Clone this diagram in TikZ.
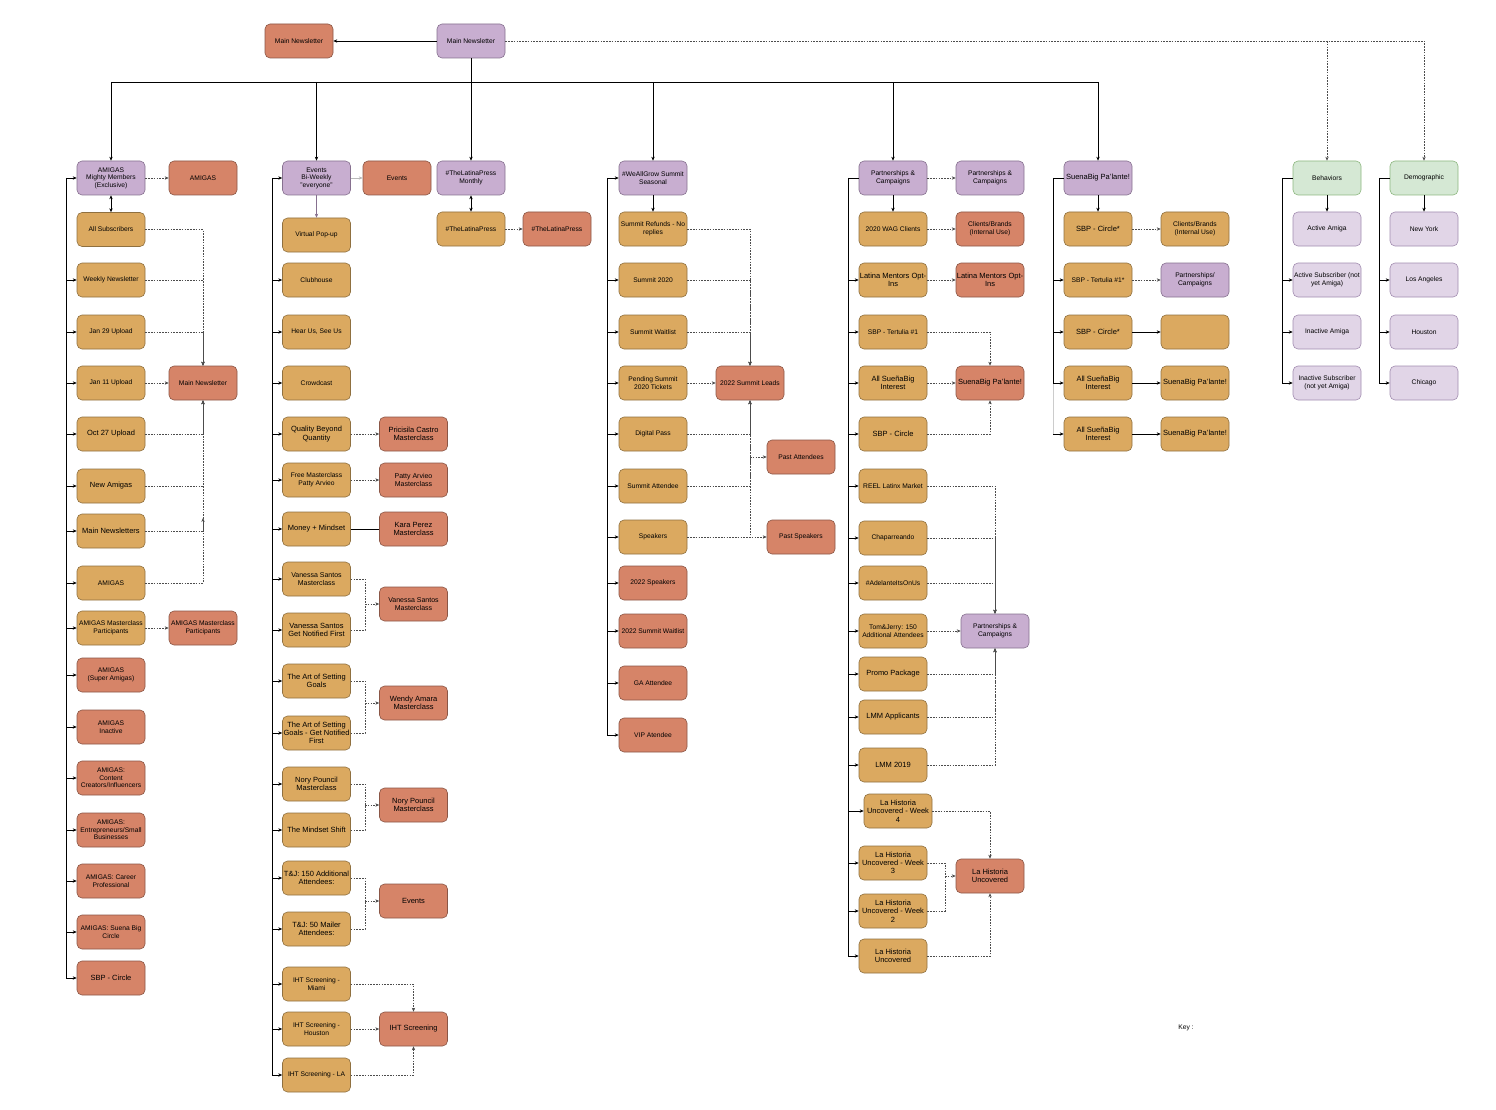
\documentclass[tikz,border=0pt]{standalone}
\usepackage{fontspec}
\setmainfont{Liberation Sans}
\usetikzlibrary{arrows.meta,calc}
\definecolor{cyel}{HTML}{DBA960}
\definecolor{cyelb}{HTML}{8F7040}
\definecolor{cora}{HTML}{D68468}
\definecolor{corab}{HTML}{8A5646}
\definecolor{cpur}{HTML}{C8AED0}
\definecolor{cpurb}{HTML}{86708F}
\definecolor{clpu}{HTML}{E1D5E7}
\definecolor{clpub}{HTML}{A28DB0}
\definecolor{cgrn}{HTML}{D5E8D4}
\definecolor{cgrnb}{HTML}{8DB77F}
\newcommand\smtxt{\fontsize{6.7}{7.5}\selectfont}
\newcommand\mdtxt{\fontsize{7.0}{7.8}\selectfont}
\newcommand\lgtxt{\fontsize{7.5}{8.3}\selectfont}
\begin{document}
\begin{tikzpicture}[x=1pt,y=-1pt,
  >={Stealth[length=4pt,width=3.4pt]},
  box/.style={draw, rounded corners=5pt, minimum width=68pt, minimum height=34pt,
    inner sep=0.5pt, align=center, font=\smtxt, line width=0.6pt},
  yel/.style={box, fill=cyel, draw=cyelb},
  ora/.style={box, fill=cora, draw=corab},
  pur/.style={box, fill=cpur, draw=cpurb},
  lpu/.style={box, fill=clpu, draw=clpub},
  grn/.style={box, fill=cgrn, draw=cgrnb},
  lg/.style={font=\lgtxt},
  md/.style={font=\mdtxt},
  ln/.style={draw=black, line width=0.7pt},
  ar/.style={ln, ->},
  dl/.style={draw=gray!60!black, line width=0.6pt, dash pattern=on 1.6pt off 1.2pt},
  da/.style={dl, ->}]
\useasboundingbox (0,0) rectangle (1496,1110);

% ---------- top ----------
\node[ora] (mno) at (299,41) {Main Newsletter};
\node[pur] (mnp) at (471,41) {Main Newsletter};

% ---------- AMIGAS column ----------
\node[pur] (amh) at (111,178) {AMIGAS\\Mighty Members\\(Exclusive)};
\node[ora] (amo) at (203,178) {AMIGAS};
\node[yel] (a2) at (111,229.5) {All Subscribers};
\node[yel] (a3) at (111,280) {Weekly Newsletter};
\node[yel] (a4) at (111,332) {Jan 29 Upload};
\node[yel] (a5) at (111,383) {Jan 11 Upload};
\node[ora] (amn) at (203,383) {Main Newsletter};
\node[yel,lg] (a6) at (111,434) {Oct 27 Upload};
\node[yel,lg] (a7) at (111,486) {New Amigas};
\node[yel,lg] (a8) at (111,531) {Main Newsletters};
\node[yel] (a9) at (111,583) {AMIGAS};
\node[yel] (a10) at (111,628) {AMIGAS Masterclass\\Participants};
\node[ora] (amp) at (203,628) {AMIGAS Masterclass\\Participants};
\node[ora] (a11) at (111,675) {AMIGAS\\(Super Amigas)};
\node[ora] (a12) at (111,727) {AMIGAS\\Inactive};
\node[ora] (a13) at (111,778) {AMIGAS:\\Content\\Creators/Influencers};
\node[ora] (a14) at (111,830) {AMIGAS:\\Entrepreneurs/Small\\Businesses};
\node[ora] (a15) at (111,881) {AMIGAS: Career\\Professional};
\node[ora] (a16) at (111,932) {AMIGAS: Suena Big\\Circle};
\node[ora,lg] (a17) at (111,978) {SBP - Circle};

% ---------- Events column ----------
\node[pur] (eh) at (316.5,178) {Events\\Bi-Weekly\\"everyone"};
\node[ora] (eo) at (397,178) {Events};
\node[yel] (e1) at (316.5,235) {Virtual Pop-up};
\node[yel] (e2) at (316.5,280) {Clubhouse};
\node[yel] (e3) at (316.5,332) {Hear Us, See Us};
\node[yel] (e4) at (316.5,383) {Crowdcast};
\node[yel,lg] (e5) at (316.5,434) {Quality Beyond\\Quantity};
\node[yel] (e6) at (316.5,480) {Free Masterclass\\Patty Arvieo};
\node[yel,lg] (e7) at (316.5,529) {Money + Mindset};
\node[yel,md] (e8) at (316.5,579) {Vanessa Santos\\Masterclass};
\node[yel,lg] (e9) at (316.5,630) {Vanessa Santos\\Get Notified First};
\node[yel,lg] (e10) at (316.5,681) {The Art of Setting\\Goals};
\node[yel,lg] (e11) at (316.5,733) {The Art of Setting\\Goals - Get Notified\\First};
\node[yel,lg] (e12) at (316.5,784) {Nory Pouncil\\Masterclass};
\node[yel,lg] (e13) at (316.5,830) {The Mindset Shift};
\node[yel,lg] (e14) at (316.5,878) {T\&J: 150 Additional\\Attendees:};
\node[yel,lg] (e15) at (316.5,929) {T\&J: 50 Mailer\\Attendees:};
\node[yel] (e16) at (316.5,984) {IHT Screening -\\Miami};
\node[yel] (e17) at (316.5,1029) {IHT Screening -\\Houston};
\node[yel] (e18) at (316.5,1075) {IHT Screening - LA};
\node[ora,lg] (r1) at (413.5,434) {Pricisila Castro\\Masterclass};
\node[ora,md] (r2) at (413.5,480) {Patty Arvieo\\Masterclass};
\node[ora,lg] (r3) at (413.5,529) {Kara Perez\\Masterclass};
\node[ora,md] (r4) at (413.5,604) {Vanessa Santos\\Masterclass};
\node[ora,lg] (r5) at (413.5,703) {Wendy Amara\\Masterclass};
\node[ora,lg] (r6) at (413.5,805) {Nory Pouncil\\Masterclass};
\node[ora,lg] (r7) at (413.5,901) {Events};
\node[ora,lg] (r8) at (413.5,1029) {IHT Screening};

% ---------- LatinaPress ----------
\node[pur] (lph) at (471,178) {\#TheLatinaPress\\Monthly};
\node[yel] (lp1) at (471,229) {\#TheLatinaPress};
\node[ora] (lpo) at (557,229) {\#TheLatinaPress};

% ---------- WeAllGrow ----------
\node[pur] (wh) at (653,178) {\#WeAllGrow Summit\\Seasonal};
\node[yel] (w1) at (653,229) {Summit Refunds - No\\replies};
\node[yel] (w2) at (653,280) {Summit 2020};
\node[yel] (w3) at (653,332) {Summit Waitlist};
\node[yel] (w4) at (653,383) {Pending Summit\\2020 Tickets};
\node[yel] (w5) at (653,434) {Digital Pass};
\node[yel] (w6) at (653,486) {Summit Attendee};
\node[yel] (w7) at (653,537) {Speakers};
\node[ora] (w8) at (653,583) {2022 Speakers};
\node[ora] (w9) at (653,631) {2022 Summit Waitlist};
\node[ora] (w10) at (653,683) {GA Attendee};
\node[ora] (w11) at (653,735) {VIP Atendee};
\node[ora] (wl) at (750,383) {2022 Summit Leads};
\node[ora] (wpa) at (801,457) {Past Attendees};
\node[ora] (wps) at (801,537) {Past Speakers};

% ---------- Partnerships ----------
\node[pur] (ph) at (893,178) {Partnerships \&\\Campaigns};
\node[pur] (po1) at (990,178) {Partnerships \&\\Campaigns};
\node[yel] (p1) at (893,229) {2020 WAG Clients};
\node[ora] (po2) at (990,229) {Clients/Brands\\(Internal Use)};
\node[yel,lg] (p2) at (893,280) {Latina Mentors Opt-\\Ins};
\node[ora,lg] (po3) at (990,280) {Latina Mentors Opt-\\Ins};
\node[yel] (p3) at (893,332) {SBP - Tertulia \#1};
\node[yel,lg] (p4) at (893,383) {All SueñaBig\\Interest};
\node[ora,lg] (po4) at (990,383) {SuenaBig Pa'lante!};
\node[yel,lg] (p5) at (893,434) {SBP - Circle};
\node[yel] (p6) at (893,486) {REEL Latinx Market};
\node[yel] (p7) at (893,538) {Chaparreando};
\node[yel] (p8) at (893,583) {\#AdelanteItsOnUs};
\node[yel] (p9) at (893,631) {Tom\&Jerry: 150\\Additional Attendees};
\node[pur] (po5) at (995,631) {Partnerships \&\\Campaigns};
\node[yel,lg] (p10) at (893,674) {Promo Package};
\node[yel,lg] (p11) at (893,717) {LMM Applicants};
\node[yel,lg] (p12) at (893,765) {LMM 2019};
\node[yel,lg] (p13) at (898,811) {La Historia\\Uncovered - Week\\4};
\node[yel,lg] (p14) at (893,863) {La Historia\\Uncovered - Week\\3};
\node[yel,lg] (p15) at (893,911) {La Historia\\Uncovered - Week\\2};
\node[yel,lg] (p16) at (893,956) {La Historia\\Uncovered};
\node[ora,lg] (po6) at (990,876) {La Historia\\Uncovered};

% ---------- SuenaBig ----------
\node[pur,lg] (sh) at (1098,178) {SuenaBig Pa'lante!};
\node[yel,lg] (s1) at (1098,229) {SBP - Circle*};
\node[yel] (s2) at (1098,280) {SBP - Tertulia \#1*};
\node[yel,lg] (s3) at (1098,332) {SBP - Circle*};
\node[yel,lg] (s4) at (1098,383) {All SueñaBig\\Interest};
\node[yel,lg] (s5) at (1098,434) {All SueñaBig\\Interest};
\node[yel] (so1) at (1195,229) {Clients/Brands\\(Internal Use)};
\node[pur] (so2) at (1195,280) {Partnerships/\\Campaigns};
\node[yel] (so3) at (1195,332) {};
\node[yel,lg] (so4) at (1195,383) {SuenaBig Pa'lante!};
\node[yel,lg] (so5) at (1195,434) {SuenaBig Pa'lante!};

% ---------- Behaviors / Demographic ----------
\node[grn] (bh) at (1327,178) {Behaviors};
\node[lpu] (b1) at (1327,229) {Active Amiga};
\node[lpu] (b2) at (1327,280) {Active Subscriber (not\\yet Amiga)};
\node[lpu] (b3) at (1327,332) {Inactive Amiga};
\node[lpu] (b4) at (1327,383) {Inactive Subscriber\\(not yet Amiga)};
\node[grn] (dh) at (1424,178) {Demographic};
\node[lpu] (d1) at (1424,229) {New York};
\node[lpu] (d2) at (1424,280) {Los Angeles};
\node[lpu] (d3) at (1424,332) {Houston};
\node[lpu] (d4) at (1424,383) {Chicago};

\node[font=\smtxt] (key) at (1186,1028) {Key :};

% ================= connectors =================
% top
\coordinate (tb) at (471,82);
\draw[ar] (mnp.west) -- (mno.east);
\draw[ln] (amh.north |- tb) -- (sh.north |- tb);
\foreach \h in {amh,eh,wh,ph,sh} \draw[ar] (\h.north |- tb) -- (\h.north);
\draw[ar] (mnp.south) -- (lph.north);
\draw[da] (mnp.east) -| (dh.north);
\draw[da] (bh.north |- mnp.east) -- (bh.north);

% AMIGAS
\coordinate (abus) at (66,178);
\draw[ln] (abus) -- (abus |- a17.west);
\draw[ar] (abus) -- (amh.west);
\foreach \n in {a3,a4,a5,a6,a7,a8,a9,a10,a11,a12,a13,a14,a15,a16,a17}
  \draw[ar] (abus |- \n.west) -- (\n.west);
\draw[ln,<->] (amh.south) -- (a2.north);
\draw[da] (amh.east) -- (amo.west);
\foreach \n in {a2,a3,a4} \draw[da] (\n.east) -| (amn.north);
\draw[da] (a5.east) -- (amn.west);
\foreach \n in {a6,a7,a8} \draw[da] (\n.east) -| (amn.south);
\coordinate (amid) at (203,518);
\draw[da] (a9.east) -| (amid);
\draw[da] (a10.east) -- (amp.west);

% Events
\coordinate (ebus) at (272,178);
\draw[ln] (ebus) -- (ebus |- e18.west);
\draw[ar] (ebus) -- (eh.west);
\foreach \n in {e2,e3,e4,e5,e6,e7,e8,e9,e10,e11,e12,e13,e14,e15,e16,e17,e18}
  \draw[ar] (ebus |- \n.west) -- (\n.west);
\draw[->, draw=gray!55, line width=0.7pt] (eh.east) -- (eo.west);
\draw[->, draw=cpurb, line width=0.7pt] (eh.south) -- (e1.north);
\draw[da] (e5.east) -- (r1.west);
\draw[da] (e6.east) -- (r2.west);
\draw[ln] (e7.east) -- (r3.west);
\coordinate (m1) at (365,604);
\coordinate (m2) at (365,703);
\coordinate (m3) at (365,805);
\coordinate (m4) at (365,901);
\draw[dl] (e8.east) -| (m1); \draw[dl] (e9.east) -| (m1); \draw[da] (m1) -- (r4.west);
\draw[dl] (e10.east) -| (m2); \draw[dl] (e11.east) -| (m2); \draw[da] (m2) -- (r5.west);
\draw[dl] (e12.east) -| (m3); \draw[dl] (e13.east) -| (m3); \draw[da] (m3) -- (r6.west);
\draw[dl] (e14.east) -| (m4); \draw[dl] (e15.east) -| (m4); \draw[da] (m4) -- (r7.west);
\draw[da] (e16.east) -| (r8.north);
\draw[da] (e17.east) -- (r8.west);
\draw[da] (e18.east) -| (r8.south);

% LatinaPress
\draw[ln,<->] (lph.south) -- (lp1.north);
\draw[da] (lp1.east) -- (lpo.west);

% WeAllGrow
\coordinate (wbus) at (607,178);
\draw[ln] (wbus) -- (wbus |- w11.west);
\draw[ar] (wbus) -- (wh.west);
\foreach \n in {w2,w3,w4,w5,w6,w7,w8,w9,w10,w11}
  \draw[ar] (wbus |- \n.west) -- (\n.west);
\draw[ar] (wh.south) -- (w1.north);
\foreach \n in {w1,w2,w3} \draw[da] (\n.east) -| (wl.north);
\draw[da] (w4.east) -- (wl.west);
\foreach \n in {w5,w6,w7} \draw[da] (\n.east) -| (wl.south);
\draw[da] (wl.south |- wpa.west) -- (wpa.west);
\draw[da] (w7.east) -- (wps.west);

% Partnerships
\coordinate (pbus) at (848,178);
\draw[ln] (pbus) -- (pbus |- p16.west);
\draw[ln] (pbus) -- (ph.west);
\foreach \n in {p2,p3,p4,p5,p6,p7,p8,p9,p10,p11,p12,p13,p14,p15,p16}
  \draw[ar] (pbus |- \n.west) -- (\n.west);
\draw[ar] (ph.south) -- (p1.north);
\draw[da] (ph.east) -- (po1.west);
\draw[da] (p1.east) -- (po2.west);
\draw[da] (p2.east) -- (po3.west);
\draw[da] (p3.east) -| (po4.north);
\draw[da] (p4.east) -- (po4.west);
\draw[da] (p5.east) -| (po4.south);
\foreach \n in {p6,p7,p8} \draw[da] (\n.east) -| (po5.north);
\draw[da] (p9.east) -- (po5.west);
\foreach \n in {p10,p11,p12} \draw[da] (\n.east) -| (po5.south);
\draw[da] (p13.east) -| (po6.north);
\coordinate (m5) at (945,876);
\draw[dl] (p14.east) -| (m5); \draw[dl] (p15.east) -| (m5); \draw[da] (m5) -- (po6.west);
\draw[da] (p16.east) -| (po6.south);

% SuenaBig
\coordinate (sbus) at (1053,178);
\draw[ln] (sbus) -- (sbus |- s4.west);
\draw[draw=gray!40, line width=0.7pt] (sbus |- s4.west) -- (sbus |- s5.west);
\draw[ln] (sbus) -- (sh.west);
\foreach \n in {s2,s3,s4,s5} \draw[ar] (sbus |- \n.west) -- (\n.west);
\draw[ar] (sh.south) -- (s1.north);
\draw[da] (s1.east) -- (so1.west);
\draw[da] (s2.east) -- (so2.west);
\draw[ar] (s3.east) -- (so3.west);
\draw[ar] (s4.east) -- (so4.west);
\draw[ar] (s5.east) -- (so5.west);

% Behaviors
\coordinate (bbus) at (1282,178);
\draw[ln] (bbus) -- (bbus |- b4.west);
\draw[ln] (bbus) -- (bh.west);
\foreach \n in {b2,b3,b4} \draw[ar] (bbus |- \n.west) -- (\n.west);
\draw[ar] (bh.south) -- (b1.north);

% Demographic
\coordinate (dbus) at (1379,178);
\draw[ln] (dbus) -- (dbus |- d4.west);
\draw[ln] (dbus) -- (dh.west);
\foreach \n in {d2,d3,d4} \draw[ar] (dbus |- \n.west) -- (\n.west);
\draw[ar] (dh.south) -- (d1.north);
\end{tikzpicture}
\end{document}
